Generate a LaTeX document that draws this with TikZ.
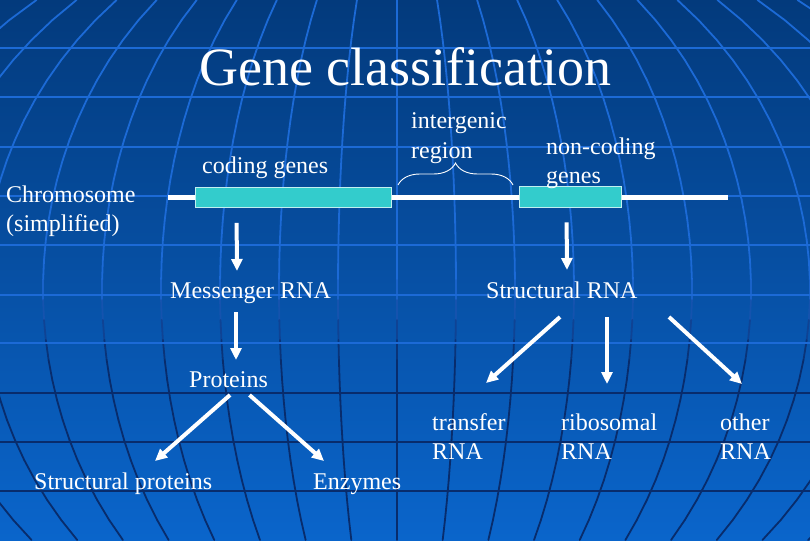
\documentclass[tikz,border=0pt]{standalone}
\usepackage{fontspec}
\setmainfont{Liberation Serif}
\usetikzlibrary{arrows.meta,decorations.pathreplacing,calc}
\definecolor{bgtop}{RGB}{3,58,124}
\definecolor{bgbot}{RGB}{10,101,203}
\definecolor{gridL}{RGB}{28,106,214}
\definecolor{gridD}{RGB}{8,44,108}
\definecolor{genefill}{RGB}{51,204,204}
\begin{document}
\begin{tikzpicture}[x=1pt,y=-1pt,
  lbl/.style={text=white, font=\fontsize{24}{29}\selectfont, inner sep=0pt, anchor=base west, align=left},
  arr/.style={white, line width=4pt, -{Triangle[width=11pt,length=12pt]}},
  genebox/.style={fill=genefill, draw=white!70!genefill, line width=0.8pt, inner sep=0pt},
  gridline/.style={line width=1.8pt, line cap=round}]
\useasboundingbox (0,0) rectangle (810,540);
\shade[top color=bgtop, bottom color=bgbot] (0,0) rectangle (810,540);
% globe grid
\begin{scope}
\clip (0,0) rectangle (810,540);
\foreach \k in {-11,...,11}{
  \foreach \y in {0,20,...,520}{
    \pgfmathsetmacro\ya{\y}
    \pgfmathsetmacro\yb{\y+20}
    \pgfmathsetmacro\xa{397+59*\k*sqrt(1-((\ya-290)/395)^2)}
    \pgfmathsetmacro\xb{397+59*\k*sqrt(1-((\yb-290)/395)^2)}
    \pgfmathsetmacro\p{max(0,min(100,(350-\y)/0.8))}
    \draw[gridline, color=gridL!\p!gridD] (\xa,\ya) -- (\xb,\yb);
  }
}
\foreach \hy in {48,97,147,196,245,295,343}{
  \draw[gridline, gridL] (0,\hy) -- (810,\hy);
}
\foreach \hy in {393,442,491}{
  \draw[gridline, gridD] (0,\hy) -- (810,\hy);
}
\end{scope}
% title
\node[text=white, inner sep=0pt, anchor=base, font=\fontsize{54}{62}\selectfont] (title) at (405.5,86) {Gene classification};
% chromosome
\coordinate (chrL) at (168,197);
\coordinate (chrR) at (728,197);
\draw[white, line width=5pt] (chrL) -- (chrR);
\node[genebox, minimum width=196.5pt, minimum height=20pt] (cbox) at (293.25,197.5) {};
\node[genebox, minimum width=102pt, minimum height=21pt] (nbox) at (570,196.5) {};
\coordinate (bL) at (398,185);
\coordinate (bR) at (513,185);
\draw[white, line width=0.9pt, decorate, decoration={brace, amplitude=22pt}] (bL) -- (bR);
% labels (multi-line nodes: base = last line)
\node[lbl] (coding) at (202,174) {coding genes};
\node[lbl] (chromo) at (6,231) {Chromosome\\(simplified)};
\node[lbl] (inter) at (411,158) {intergenic\\region};
\node[lbl] (noncod) at (546,183) {non-coding\\genes};
\node[lbl] (mrna) at (170,298) {Messenger RNA};
\node[lbl] (srna) at (486,298) {Structural RNA};
\node[lbl] (prot) at (189,387) {Proteins};
\node[lbl] (trna) at (432,459) {transfer\\RNA};
\node[lbl] (rrna) at (561,459) {ribosomal\\RNA};
\node[lbl] (orna) at (720,459) {other\\RNA};
\node[lbl] (sprot) at (34,489) {Structural proteins};
\node[lbl] (enz) at (313,489) {Enzymes};
% arrows
\draw[arr] ($(cbox.south west)+(42,15)$) -- ($(mrna.base west)+(67,-27)$);
\draw[arr] ($(mrna.base west)+(66,14)$) -- ($(prot.base west)+(47,-27)$);
\draw[arr] ($(prot.base west)+(41,8)$) -- ($(sprot.base west)+(121,-28)$);
\draw[arr] ($(prot.base west)+(60.5,8)$) -- ($(enz.base west)+(11,-28)$);
\draw[arr] ($(nbox.south west)+(48,15)$) -- ($(srna.base west)+(81,-28)$);
\draw[arr] ($(srna.base west)+(74,19)$) -- ($(trna.base west)+(54,-76)$);
\draw[arr] ($(srna.base west)+(121,19)$) -- ($(rrna.base west)+(46,-75)$);
\draw[arr] ($(srna.base west)+(183,19)$) -- ($(orna.base west)+(22,-75)$);
\end{tikzpicture}
\end{document}
